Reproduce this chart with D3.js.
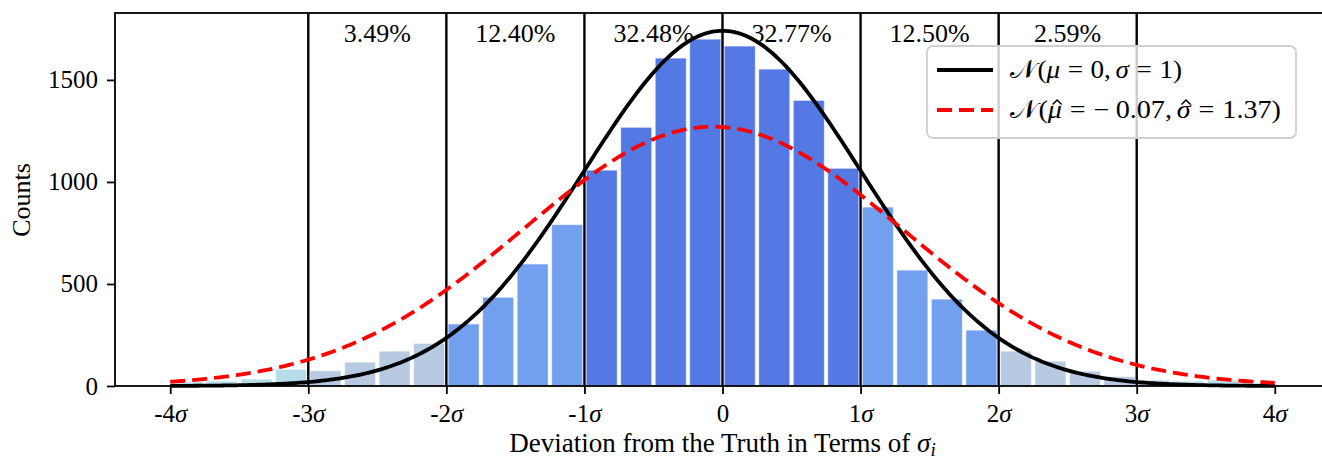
<!DOCTYPE html>
<html>
<head>
<meta charset="utf-8">
<script src="https://cdn.jsdelivr.net/npm/d3@7"></script>
<style>
  body { margin: 0; background: #fff; }
  text { font-family: "Liberation Serif", "Times New Roman", serif; fill: #000; }
</style>
</head>
<body>
<svg id="chart" width="1322" height="460"></svg>
<script>
// Histogram of deviations, in units of sigma (bin left edges and counts)
const binStarts = [-4.00, -3.75, -3.50, -3.25, -3.00, -2.75, -2.50, -2.25,
                   -2.00, -1.75, -1.50, -1.25, -1.00, -0.75, -0.50, -0.25,
                    0.00,  0.25,  0.50,  0.75,  1.00,  1.25,  1.50,  1.75,
                    2.00,  2.25,  2.50,  2.75,  3.00,  3.25,  3.50,  3.75];
const binWidth = 0.25;
const counts = [20, 24, 34, 82, 75, 117, 171, 209,
                304, 435, 598, 791, 1058, 1268, 1607, 1700,
                1666, 1553, 1400, 1067, 877, 568, 426, 274,
                171, 122, 73, 46, 29, 24, 29, 15];

// Share of samples in each one-sigma band
const bandCenters = [-2.5, -1.5, -0.5, 0.5, 1.5, 2.5];
const bandLabels = ["3.49%", "12.40%", "32.48%", "32.77%", "12.50%", "2.59%"];

const sigmaLines = [-3, -2, -1, 0, 1, 2, 3];
const xTicks = [-4, -3, -2, -1, 0, 1, 2, 3, 4];
const yTicks = [0, 500, 1000, 1500];

// Reference and fitted normal curves, scaled to counts per bin
const sampleTotal = 17456;
const standardFit = { mu: 0, sigma: 1 };
const sampleFit = { mu: -0.07, sigma: 1.37 };
const xDomain = [-4.4, 4.4];
const yMax = 1828;

const svg = d3.select("#chart");
const plotLeft = 115, plotRight = 1330, plotTop = 13, plotBottom = 386;

const x = d3.scaleLinear().domain(xDomain).range([plotLeft, plotRight]);
const y = d3.scaleLinear().domain([0, yMax]).range([plotBottom, plotTop]);

function bandColor(center) {
  const a = Math.abs(center);
  if (a > 3) return "lightblue";
  if (a > 2) return "lightsteelblue";
  if (a > 1) return "cornflowerblue";
  return "royalblue";
}

// bars
svg.append("g").selectAll("rect")
  .data(binStarts.map((s, i) => ({ start: s, count: counts[i] })))
  .join("rect")
  .attr("x", d => x(d.start + binWidth * 0.05))
  .attr("width", d => x(d.start + binWidth * 0.95) - x(d.start + binWidth * 0.05))
  .attr("y", d => y(d.count))
  .attr("height", d => y(0) - y(d.count))
  .attr("fill", d => bandColor(d.start + binWidth / 2))
  .attr("fill-opacity", 0.9)
  .attr("stroke", "#fff")
  .attr("stroke-opacity", 0.6)
  .attr("stroke-width", 1);

// sigma boundaries
svg.append("g").selectAll("line")
  .data(sigmaLines)
  .join("line")
  .attr("x1", d => x(d)).attr("x2", d => x(d))
  .attr("y1", y(0)).attr("y2", plotTop)
  .attr("stroke", "#000")
  .attr("stroke-width", 2.4);

// percentage labels
svg.append("g").selectAll("text")
  .data(bandCenters)
  .join("text")
  .attr("x", d => x(d))
  .attr("y", 42)
  .attr("text-anchor", "middle")
  .attr("font-size", 26)
  .text((d, i) => bandLabels[i]);

// normal curves
function pdf(v, p) {
  const z = (v - p.mu) / p.sigma;
  return Math.exp(-0.5 * z * z) / (p.sigma * Math.sqrt(2 * Math.PI));
}
const grid = d3.range(-4, 4.0001, 0.02);
const curve = p => d3.line()
  .x(v => x(v))
  .y(v => y(sampleTotal * binWidth * pdf(v, p)))(grid);

svg.append("path")
  .attr("d", curve(standardFit))
  .attr("fill", "none")
  .attr("stroke", "#000")
  .attr("stroke-width", 3.8);

svg.append("path")
  .attr("d", curve(sampleFit))
  .attr("fill", "none")
  .attr("stroke", "red")
  .attr("stroke-width", 3.8)
  .attr("stroke-dasharray", "15 7");

// axes
const xAxis = svg.append("g")
  .attr("transform", `translate(0,${plotBottom})`)
  .call(d3.axisBottom(x).tickValues(xTicks).tickSize(8).tickSizeOuter(0).tickFormat(""));
xAxis.select(".domain").remove();
xAxis.selectAll(".tick line").attr("stroke-width", 1.8);
xAxis.selectAll(".tick text").remove();
xAxis.selectAll(".tick").append("text")
  .attr("y", 36)
  .attr("text-anchor", "middle")
  .attr("font-family", "Liberation Serif, serif")
  .attr("font-size", 25)
  .each(function (d) {
    const t = d3.select(this);
    if (d === 0) { t.text("0"); return; }
    t.append("tspan").text(String(d));
    t.append("tspan").attr("font-style", "italic").text("σ");
  });

const yAxis = svg.append("g")
  .attr("transform", `translate(${plotLeft},0)`)
  .call(d3.axisLeft(y).tickValues(yTicks).tickFormat(d3.format("d"))
    .tickSize(8).tickSizeOuter(0).tickPadding(9));
yAxis.select(".domain").remove();
yAxis.selectAll(".tick line").attr("stroke-width", 1.8);
yAxis.selectAll(".tick text")
  .attr("font-family", "Liberation Serif, serif")
  .attr("font-size", 25)
  .attr("fill", "#000");

// frame
svg.append("rect")
  .attr("x", plotLeft).attr("y", plotTop)
  .attr("width", plotRight - plotLeft).attr("height", plotBottom - plotTop)
  .attr("fill", "none")
  .attr("stroke", "#000")
  .attr("stroke-width", 1.8);

// axis titles
const xl = svg.append("text")
  .attr("x", (plotLeft + plotRight) / 2)
  .attr("y", 452)
  .attr("text-anchor", "middle")
  .attr("font-size", 27);
xl.append("tspan").text("Deviation from the Truth in Terms of ");
xl.append("tspan").attr("font-style", "italic").text("σ");
xl.append("tspan").attr("font-style", "italic").attr("font-size", 19).attr("dy", 4).text("i");

svg.append("text")
  .attr("transform", "translate(30,200) rotate(-90)")
  .attr("text-anchor", "middle")
  .attr("font-size", 26)
  .text("Counts");

// legend
const lg = svg.append("g");
lg.append("rect")
  .attr("x", 927).attr("y", 46)
  .attr("width", 369).attr("height", 92)
  .attr("rx", 6)
  .attr("fill", "#fff").attr("fill-opacity", 0.8)
  .attr("stroke", "#d0d0d0").attr("stroke-width", 1.8);
lg.append("line")
  .attr("x1", 937).attr("x2", 993).attr("y1", 70).attr("y2", 70)
  .attr("stroke", "#000").attr("stroke-width", 3.8);
lg.append("line")
  .attr("x1", 937).attr("x2", 993).attr("y1", 110).attr("y2", 110)
  .attr("stroke", "red").attr("stroke-width", 3.8).attr("stroke-dasharray", "15 7");

// Lay out a math-style label token by token: [text, italic, gapBefore(em), hat]
function mathLabel(yPos, tokens, targetWidth) {
  const fs = 25;
  const g = lg.append("g");
  let cx = 0;
  tokens.forEach(([s, it, gap, hat]) => {
    cx += (gap || 0) * fs;
    const t = g.append("text")
      .attr("x", cx).attr("y", 0)
      .attr("font-size", fs)
      .attr("font-style", it ? "italic" : "normal")
      .text(s);
    const w = t.node().getComputedTextLength();
    if (hat) {
      const hx = cx + w / 2 + 2;
      g.append("path")
        .attr("d", `M${hx - 4},-13.5 L${hx},-18 L${hx + 4},-13.5`)
        .attr("fill", "none")
        .attr("stroke", "#000")
        .attr("stroke-width", 1.3);
    }
    cx += w;
  });
  const k = targetWidth / cx;
  g.attr("transform", `translate(1010,${yPos}) scale(${k},1)`);
}
const thick = 0.28, thin = 0.17;
mathLabel(78, [
  ["𝒩", false, 0], ["(", false, 0.05], ["μ", true, 0], ["=", false, thick], ["0", false, thick],
  [",", false, 0], ["σ", true, thin], ["=", false, thick], ["1", false, thick], [")", false, 0]
], 172);
mathLabel(118, [
  ["𝒩", false, 0], ["(", false, 0.05], ["μ", true, 0, true], ["=", false, thick], ["−", false, thick],
  ["0.07", false, 0.22], [",", false, 0], ["σ", true, thin, true], ["=", false, thick],
  ["1.37", false, thick], [")", false, 0]
], 271);
</script>
</body>
</html>
